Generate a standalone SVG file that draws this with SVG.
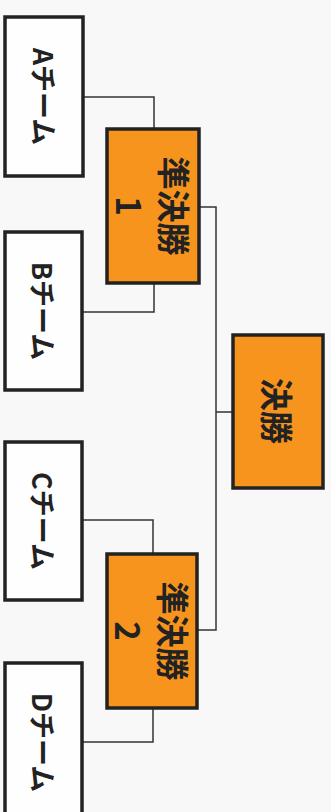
<svg xmlns="http://www.w3.org/2000/svg" width="331" height="812" viewBox="0 0 331 812">
<style>
.team{fill:#fefefe;stroke:#222;stroke-width:3.5}
.match{fill:#f7941e;stroke:#222;stroke-width:3.5}
.lbl{font-family:"Noto Sans CJK JP","Noto Sans",sans-serif;font-weight:bold;fill:#222;text-anchor:middle;dominant-baseline:central}
.t{font-size:27px}
.m{font-size:33px}
#connectors path{fill:none;stroke:#333;stroke-width:1.5}
</style>
<rect width="331" height="812" fill="#f8f8f8"/>
<g id="connectors">
<path d="M83 97H154V129"/>
<path d="M154 283V312H82"/>
<path d="M199 207H216V630H197"/>
<path d="M216 412H233"/>
<path d="M82 520H153V554"/>
<path d="M153 708V742H82"/>
</g>
<g id="teamA"><rect class="team" x="5" y="17" width="78" height="159"/><text class="lbl t" transform="translate(44,96.5) rotate(90)">Aチーム</text></g>
<g id="teamB"><rect class="team" x="5" y="232" width="77" height="158"/><text class="lbl t" transform="translate(43.5,311) rotate(90)">Bチーム</text></g>
<g id="teamC"><rect class="team" x="5" y="442" width="77" height="158"/><text class="lbl t" transform="translate(43.5,521) rotate(90)">Cチーム</text></g>
<g id="teamD"><rect class="team" x="5" y="663" width="77" height="159"/><text class="lbl t" transform="translate(43.5,742.5) rotate(90)">Dチーム</text></g>
<g id="semi1"><rect class="match" x="107" y="129" width="92" height="154"/><text class="lbl m" transform="translate(153,206) rotate(90)"><tspan x="0" y="-22">準決勝</tspan><tspan x="0" y="23">1</tspan></text></g>
<g id="semi2"><rect class="match" x="107" y="554" width="90" height="154"/><text class="lbl m" transform="translate(152,631) rotate(90)"><tspan x="0" y="-22">準決勝</tspan><tspan x="0" y="23">2</tspan></text></g>
<g id="final"><rect class="match" x="233" y="335" width="90" height="153"/><text class="lbl m" transform="translate(278,411) rotate(90)">決勝</text></g>
</svg>
